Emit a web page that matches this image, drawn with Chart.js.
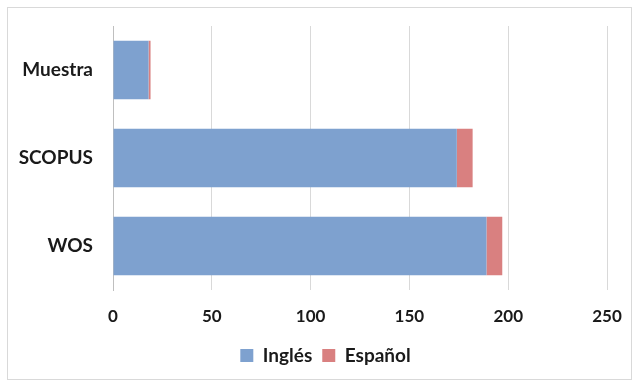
<!DOCTYPE html>
<html>
<head>
<meta charset="utf-8">
<script src="https://cdn.jsdelivr.net/npm/chart.js@4/dist/chart.umd.min.js"></script>
<style>
  html, body { margin: 0; padding: 0; background: #fff; }
  #wrap { width: 634px; height: 383px; }
</style>
</head>
<body>
<div id="wrap"><canvas id="chart"></canvas></div>
<script>
const categories = ["Muestra", "SCOPUS", "WOS"];
const ingles = [18, 174, 189];
const espanol = [1, 8, 8];
const xTicks = [0, 50, 100, 150, 200, 250];

// thin grey frame around the whole chart, like the Excel chart area
const frame = {
    id: "frame",
    beforeDraw(chart) {
        const c = chart.ctx;
        c.save();
        c.fillStyle = "#fff";
        c.fillRect(0, 0, chart.width, chart.height);
        c.strokeStyle = "#d9d9d9";
        c.lineWidth = 1;
        c.strokeRect(7.5, 7.5, 624, 372);
        c.restore();
    },
    afterLayout(chart) {
        // the legend sits a bit right of centre in the original
        chart.legend.left += 22;
        chart.legend.right += 22;
    }
};

const tickFont = { family: "Lato", size: 17, weight: "bold" };
const labelFont = { family: "Lato", size: 19, weight: "bold" };

const ctx = document.getElementById("chart").getContext("2d");
const myChart = new Chart(ctx, {
    type: "bar",
    data: {
        labels: categories,
        datasets: [
            { label: "Inglés", data: ingles, backgroundColor: "#7ea1cf" },
            { label: "Español", data: espanol, backgroundColor: "#d98080" },
        ],
    },
    options: {
        indexAxis: "y",
        responsive: true,
        maintainAspectRatio: false,
        animation: false,
        categoryPercentage: 1,
        barPercentage: 0.665,
        layout: { padding: { top: 26, right: 27, bottom: 8, left: 0 } },
        plugins: {
            legend: {
                position: "bottom",
                labels: {
                    color: "#1a1a1a",
                    font: labelFont,
                    boxWidth: 13,
                    boxHeight: 13,
                    padding: 10,
                },
            },
            tooltip: { enabled: false },
        },
        scales: {
            x: {
                stacked: true,
                min: 0,
                max: 250,
                afterBuildTicks: function (scale) {
                    scale.ticks = xTicks.map(v => ({ value: v }));
                },
                afterFit: function (scale) { scale.height = 46; },
                ticks: { color: "#1a1a1a", font: tickFont, padding: 3 },
                grid: { color: "#d9d9d9", tickLength: 13, tickColor: "rgba(0,0,0,0)" },
                border: { display: false },
            },
            y: {
                stacked: true,
                afterFit: function (scale) { scale.width = 113; },
                ticks: { color: "#1a1a1a", font: labelFont, padding: 4 },
                grid: { drawOnChartArea: false, tickLength: 16, tickColor: "rgba(0,0,0,0)" },
                border: { display: true, color: "#bfbfbf" },
            },
        },
    },
    plugins: [frame],
});
</script>
</body>
</html>
